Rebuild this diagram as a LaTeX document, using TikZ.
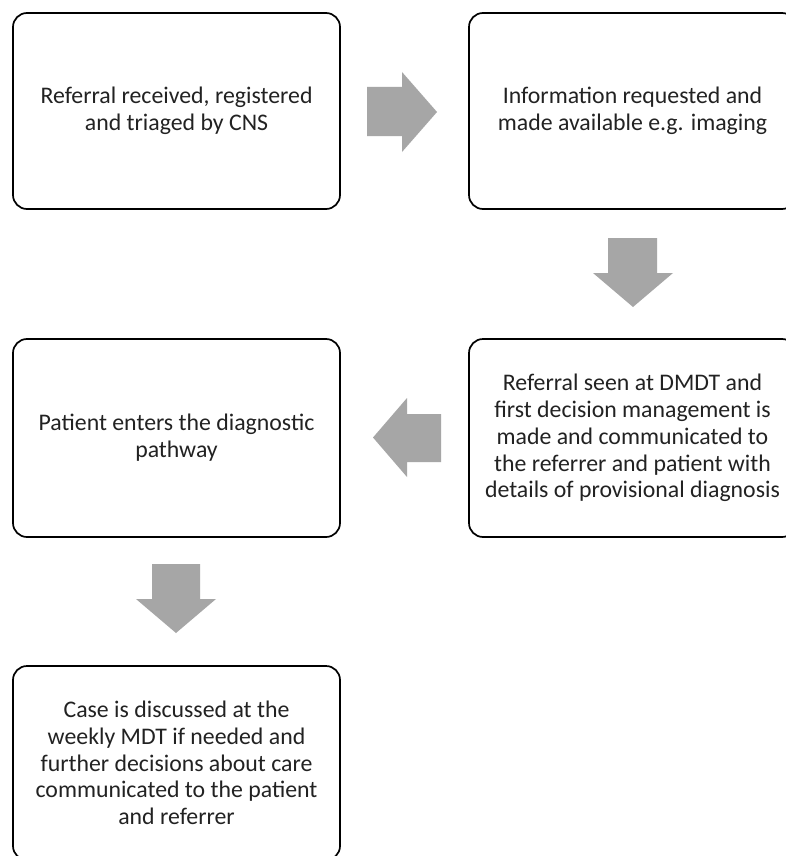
\documentclass[tikz,border=0pt]{standalone}
\usepackage{fontspec}
\setmainfont{Carlito}
\definecolor{arrowgray}{HTML}{A6A6A6}
\definecolor{txt}{HTML}{222222}
\begin{document}
\begin{tikzpicture}[x=1pt,y=-1pt,
  box/.style={draw=black, line width=1.7pt, rounded corners=14pt, rectangle,
    minimum width=327pt, align=center, text=txt,
    font=\fontsize{23.8}{26.8}\selectfont},
  blockarrow/.style={fill=arrowgray, draw=none}]
\useasboundingbox (0,0) rectangle (786,856);
\clip (0,0) rectangle (786,856);
\fill[white] (0,0) rectangle (786,856);

\node[box, minimum height=196pt] (b1) at (176.5,111) {Referral received, registered\\and triaged by CNS};
\node[box, minimum height=196pt] (b2) at (632.5,111) {Information requested and\\made available e.g. imaging};
\node[box, minimum height=198pt] (b3) at (632.5,438) {Referral seen at DMDT and\\first decision management is\\made and communicated to\\the referrer and patient with\\details of provisional diagnosis};
\node[box, minimum height=198pt] (b4) at (176.5,438) {Patient enters the diagnostic\\pathway};
\node[box, minimum height=194pt] (b5) at (176.5,763) {Case is discussed at the\\weekly MDT if needed and\\further decisions about care\\communicated to the patient\\and referrer};

% block arrows
\fill[blockarrow] (367,87) -- (402,87) -- (402,72) -- (437,112) -- (402,152) -- (402,136) -- (367,136) -- cycle;
\fill[blockarrow] (608,238) -- (657,238) -- (657,273) -- (673,273) -- (633,307) -- (593,273) -- (608,273) -- cycle;
\fill[blockarrow] (441,414) -- (407,414) -- (407,398) -- (373,437.5) -- (407,477) -- (407,462) -- (441,462) -- cycle;
\fill[blockarrow] (152,564) -- (200,564) -- (200,599) -- (216,599) -- (176,633) -- (136,599) -- (152,599) -- cycle;
\end{tikzpicture}
\end{document}
